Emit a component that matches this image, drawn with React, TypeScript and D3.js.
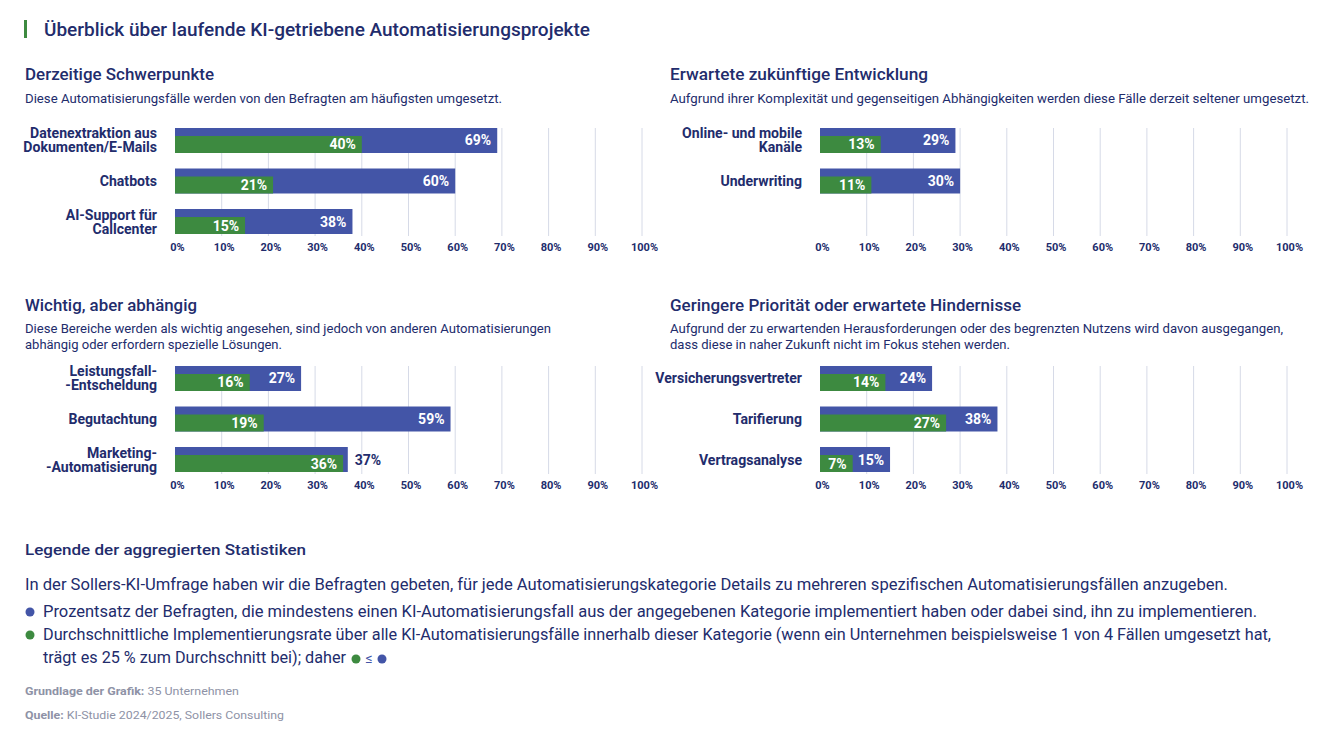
import React, { useEffect, useRef } from 'react';
import * as d3 from 'd3';

// Panel data
const panelTitles = [
  'Derzeitige Schwerpunkte',
  'Erwartete zukünftige Entwicklung',
  'Wichtig, aber abhängig',
  'Geringere Priorität oder erwartete Hindernisse',
];
const panelSubtitles = [
  ['Diese Automatisierungsfälle werden von den Befragten am häufigsten umgesetzt.'],
  ['Aufgrund ihrer Komplexität und gegenseitigen Abhängigkeiten werden diese Fälle derzeit seltener umgesetzt.'],
  ['Diese Bereiche werden als wichtig angesehen, sind jedoch von anderen Automatisierungen', 'abhängig oder erfordern spezielle Lösungen.'],
  ['Aufgrund der zu erwartenden Herausforderungen oder des begrenzten Nutzens wird davon ausgegangen,', 'dass diese in naher Zukunft nicht im Fokus stehen werden.'],
];
const categories1 = [['Datenextraktion aus', 'Dokumenten/E-Mails'], ['Chatbots'], ['AI-Support für', 'Callcenter']];
const blue1 = [69, 60, 38];
const green1 = [40, 21, 15];
const categories2 = [['Online- und mobile', 'Kanäle'], ['Underwriting']];
const blue2 = [29, 30];
const green2 = [13, 11];
const categories3 = [['Leistungsfall-', '-Entscheldung'], ['Begutachtung'], ['Marketing-', '-Automatisierung']];
const blue3 = [27, 59, 37];
const green3 = [16, 19, 36];
const categories4 = [['Versicherungsvertreter'], ['Tarifierung'], ['Vertragsanalyse']];
const blue4 = [24, 38, 15];
const green4 = [14, 27, 7];
const tickValues = [0, 10, 20, 30, 40, 50, 60, 70, 80, 90, 100];

const mainTitle = 'Überblick über laufende KI-getriebene Automatisierungsprojekte';
const legendTitle = 'Legende der aggregierten Statistiken';
const legendIntro = 'In der Sollers-KI-Umfrage haben wir die Befragten gebeten, für jede Automatisierungskategorie Details zu mehreren spezifischen Automatisierungsfällen anzugeben.';
const legendBlue = 'Prozentsatz der Befragten, die mindestens einen KI-Automatisierungsfall aus der angegebenen Kategorie implementiert haben oder dabei sind, ihn zu implementieren.';
const legendGreen = [
  'Durchschnittliche Implementierungsrate über alle KI-Automatisierungsfälle innerhalb dieser Kategorie (wenn ein Unternehmen beispielsweise 1 von 4 Fällen umgesetzt hat,',
  'trägt es 25 % zum Durchschnitt bei); daher',
];

const NAVY = '#222c6c';
const BLUE = '#4355a7';
const GREEN = '#3d8a40';
const GRID = '#d6dae7';
const GREY = '#8e92a6';
const FONT = 'Roboto, "Noto Sans", sans-serif';

export default function App() {
  const svgRef = useRef<SVGSVGElement>(null);

  useEffect(() => {
    if (!svgRef.current) return;
    document.body.style.margin = '0';
    const svg = d3.select(svgRef.current);
    svg.selectAll('*').remove();
    svg.style('font-family', FONT);

    // squeeze text to emulate the condensed typeface of the original
    const fit = (t: any, target?: number, factor = 0.84) => {
      const node = t.node() as SVGTextElement;
      const w = node.getComputedTextLength();
      t.attr('textLength', target ?? w * factor).attr('lengthAdjust', 'spacingAndGlyphs');
      return t;
    };

    // Main title
    svg.append('rect').attr('x', 24).attr('y', 20).attr('width', 3).attr('height', 18).attr('fill', GREEN);
    fit(svg.append('text').attr('x', 44).attr('y', 36).attr('fill', NAVY)
      .style('font-size', '19px').style('font-weight', 500).text(mainTitle), 546);

    const panels = [
      { cats: categories1, blue: blue1, green: green1, left: 25, x0: 175, titleY: 80, subY: 103, top: 128, ends: [214, 502] },
      { cats: categories2, blue: blue2, green: green2, left: 670, x0: 820, titleY: 80, subY: 103, top: 128, ends: [928, 1309] },
      { cats: categories3, blue: blue3, green: green3, left: 25, x0: 175, titleY: 311, subY: 333, top: 366, ends: [197, 551, 282] },
      { cats: categories4, blue: blue4, green: green4, left: 670, x0: 820, titleY: 311, subY: 333, top: 366, ends: [1021, 1283, 1010] },
    ];

    panels.forEach((p, i) => {
      const g = svg.append('g');
      fit(g.append('text').attr('x', p.left).attr('y', p.titleY).attr('fill', NAVY)
        .style('font-size', '16.5px').style('font-weight', 500).text(panelTitles[i]), p.ends[0] - p.left);
      panelSubtitles[i].forEach((line, j) => {
        fit(g.append('text').attr('x', p.left).attr('y', p.subY + j * 16).attr('fill', NAVY)
          .style('font-size', '13px').text(line), p.ends[j + 1] - p.left);
      });

      const x = d3.scaleLinear().domain([0, 100]).range([p.x0, p.x0 + 467]);
      const y = d3.scaleBand<number>().domain([0, 1, 2]).range([p.top, p.top + 106]).paddingInner(0.383);
      const bottom = p.top + 108;
      const bw = y.bandwidth();

      // gridlines
      g.append('g').selectAll('line').data(tickValues.slice(1)).join('line')
        .attr('x1', (d) => x(d)).attr('x2', (d) => x(d))
        .attr('y1', p.top).attr('y2', bottom)
        .attr('stroke', GRID).attr('stroke-width', 1);

      // axis
      const axis = g.append('g').attr('transform', `translate(0,${bottom})`)
        .call(d3.axisBottom(x).tickValues(tickValues).tickSize(0).tickPadding(7).tickFormat((d) => `${d}%`));
      axis.select('.domain').remove();
      axis.selectAll('text').attr('fill', NAVY).attr('dx', 2)
        .style('font-family', FONT).style('font-size', '11px').style('font-weight', 700);

      const rows = p.cats.map((c, k) => ({ cat: c, blue: p.blue[k], green: p.green[k], k }));

      // blue bars
      g.append('g').selectAll('rect').data(rows).join('rect')
        .attr('x', x(0)).attr('y', (d) => y(d.k)!)
        .attr('width', (d) => x(d.blue) - x(0)).attr('height', bw)
        .attr('fill', BLUE);
      // green bars
      g.append('g').selectAll('rect').data(rows).join('rect')
        .attr('x', x(0)).attr('y', (d) => y(d.k)! + 8)
        .attr('width', (d) => x(d.green) - x(0)).attr('height', bw - 8)
        .attr('fill', GREEN);

      rows.forEach((d) => {
        const yc = y(d.k)! + bw / 2;
        const outside = x(d.blue) - x(d.green) < 30;
        g.append('text')
          .attr('x', outside ? x(d.blue) + 7 : x(d.blue) - 6)
          .attr('y', yc + 5)
          .attr('text-anchor', outside ? 'start' : 'end')
          .attr('fill', outside ? NAVY : '#fff')
          .style('font-size', '14px').style('font-weight', 700)
          .text(`${d.blue}%`);
        g.append('text')
          .attr('x', x(d.green) - 6).attr('y', yc + 9)
          .attr('text-anchor', 'end').attr('fill', '#fff')
          .style('font-size', '14px').style('font-weight', 700)
          .text(`${d.green}%`);
        // category labels
        d.cat.forEach((line, j) => {
          const yy = d.cat.length === 1 ? yc + 5 : yc - 2 + j * 14;
          fit(g.append('text').attr('x', p.x0 - 18).attr('y', yy).attr('text-anchor', 'end')
            .attr('fill', NAVY).style('font-size', '13.8px').style('font-weight', 700).text(line), undefined, 1.02);
        });
      });
    });

    // Legend
    fit(svg.append('text').attr('x', 25).attr('y', 555).attr('fill', NAVY)
      .style('font-size', '15.5px').style('font-weight', 500).text(legendTitle), 281);
    fit(svg.append('text').attr('x', 25).attr('y', 590).attr('fill', NAVY)
      .style('font-size', '16px').text(legendIntro), 1203);

    svg.append('circle').attr('cx', 30).attr('cy', 612).attr('r', 4.5).attr('fill', BLUE);
    fit(svg.append('text').attr('x', 43).attr('y', 617).attr('fill', NAVY)
      .style('font-size', '16px').text(legendBlue), 1214);
    svg.append('circle').attr('cx', 30).attr('cy', 635).attr('r', 4.5).attr('fill', GREEN);
    fit(svg.append('text').attr('x', 43).attr('y', 640).attr('fill', NAVY)
      .style('font-size', '16px').text(legendGreen[0]), 1228);
    fit(svg.append('text').attr('x', 43).attr('y', 663).attr('fill', NAVY)
      .style('font-size', '16px').text(legendGreen[1]), 303);
    svg.append('circle').attr('cx', 356).attr('cy', 659).attr('r', 4.5).attr('fill', GREEN);
    svg.append('text').attr('x', 369).attr('y', 663).attr('text-anchor', 'middle').attr('fill', BLUE)
      .style('font-size', '14px').text('≤');
    svg.append('circle').attr('cx', 382).attr('cy', 659).attr('r', 4.5).attr('fill', BLUE);

    // Footnotes
    const f1 = svg.append('text').attr('x', 25).attr('y', 695).attr('fill', GREY).style('font-size', '11px');
    f1.append('tspan').style('font-weight', 700).text('Grundlage der Grafik:');
    f1.append('tspan').text(' 35 Unternehmen');
    fit(f1, 214);
    const f2 = svg.append('text').attr('x', 25).attr('y', 719).attr('fill', GREY).style('font-size', '11px');
    f2.append('tspan').style('font-weight', 700).text('Quelle:');
    f2.append('tspan').text(' KI-Studie 2024/2025, Sollers Consulting');
    fit(f2, 259);
  }, []);

  return (
    <div>
      <svg ref={svgRef} width={1320} height={743} style={{ display: 'block', background: '#fff' }}></svg>
    </div>
  );
}
